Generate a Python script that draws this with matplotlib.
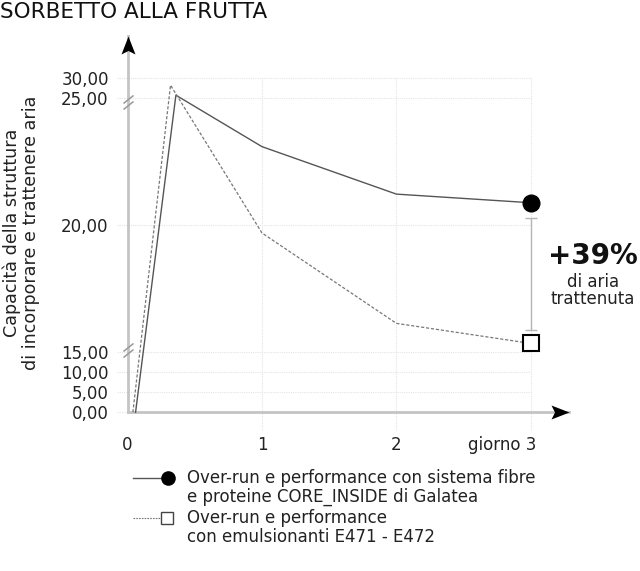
import numpy as np
import matplotlib
matplotlib.use("Agg")
import matplotlib.pyplot as plt
import matplotlib.transforms as mtransforms
from matplotlib.path import Path
from matplotlib.lines import Line2D

# data (days vs air retained)
days_core = [0.06, 0.36, 1, 2, 3]
air_core = [0, 25.8, 23.1, 21.23, 20.89]
days_emul = [0.04, 0.32, 1, 2, 3]
air_emul = [0, 28.3, 19.7, 16.14, 15.35]

y_ticks = [0, 5, 10, 15, 20, 25, 30]
y_tick_labels = ["0,00", "5,00", "10,00", "15,00", "20,00", "25,00", "30,00"]
x_ticks = [0, 1, 2, 3]
x_tick_labels = ["0", "1", "2", "giorno 3"]
gap_top, gap_bottom = 20.28, 15.88

title = "SORBETTO ALLA FRUTTA"
ylabel = "Capacità della struttura\ndi incorporare e trattenere aria"
legend_core = "Over-run e performance con sistema fibre\ne proteine CORE_INSIDE di Galatea"
legend_emul = "Over-run e performance\ncon emulsionanti E471 - E472"

plt.rcParams["font.family"] = ["DejaVu Sans"]

W, H = 640, 571


def forward(v):
    v = np.asarray(v, dtype=float)
    return np.where(v <= 15, 4 * v,
                    np.where(v <= 25, 60 + 25.4 * (v - 15), 314 + 4 * (v - 25)))


def inverse(p):
    p = np.asarray(p, dtype=float)
    return np.where(p <= 60, p / 4,
                    np.where(p <= 314, 15 + (p - 60) / 25.4, 25 + (p - 314) / 4))


def fx(x):
    return x / W


def fy(y):
    return 1 - y / H


fig = plt.figure(figsize=(W / 100, H / 100), dpi=100)
ax = fig.add_axes([fx(127.5), 1 - 412.3 / H, 441 / W, 376.3 / H])
ax.set_yscale("function", functions=(forward, inverse))
ax.set_xlim(0, 3.28)
ax.set_ylim(0, 40.6)

for s in ["top", "right"]:
    ax.spines[s].set_visible(False)
for s in ["left", "bottom"]:
    ax.spines[s].set_color("#c4c4c4")
    ax.spines[s].set_linewidth(2)

# grid
grid_kw = dict(color="#e4e4e4", lw=0.8, linestyles=(0, (1, 1)), clip_on=False, zorder=0)
ax.hlines(y_ticks, -0.078, 3, **grid_kw)
ax.vlines([1, 2, 3], -4.4, 30, **grid_kw)

# axis arrows
up_arrow = Path([(0, 0), (-7, -18), (0, -14.5), (7, -18), (0, 0)],
                [Path.MOVETO, Path.LINETO, Path.LINETO, Path.LINETO, Path.CLOSEPOLY])
right_arrow = Path([(0, 0), (-18, 7), (-14.5, 0), (-18, -7), (0, 0)],
                   [Path.MOVETO, Path.LINETO, Path.LINETO, Path.LINETO, Path.CLOSEPOLY])
ax.plot([0], [1], marker=up_arrow, ms=25.9, mew=0, color="black",
        transform=ax.get_xaxis_transform(), clip_on=False, zorder=6)
ax.plot([1], [0], marker=right_arrow, ms=25.9, mew=0, color="black",
        transform=ax.get_yaxis_transform(), clip_on=False, zorder=6)

# axis break marks
brk = Path([(-5, -7), (5, 1), (-5, -1), (5, 7)],
           [Path.MOVETO, Path.LINETO, Path.MOVETO, Path.LINETO])
ax.plot([0, 0], [24.87, 15.09], ls="none", marker=brk, ms=10.1, mew=1.1,
        mec="#9a9a9a", mfc="none", clip_on=False, zorder=6)

# series
ax.plot(days_core, air_core, color="#555555", lw=1, zorder=3, clip_on=False)
ax.plot(days_emul, air_emul, color="#777777", lw=0.9, ls=(0, (2.5, 1.5)), zorder=3, clip_on=False)
ax.plot(days_core[-1], air_core[-1], "o", ms=12, color="black", zorder=5, clip_on=False)
ax.plot(days_emul[-1], air_emul[-1], "s", ms=11.2, mfc="white", mec="black", mew=1.5,
        zorder=5, clip_on=False)

# difference bracket
ax.errorbar([3], [(gap_top + gap_bottom) / 2], yerr=[(gap_top - gap_bottom) / 2],
            fmt="none", ecolor="#b5b5b5", elinewidth=1, capsize=4.5, capthick=1, zorder=4)

# ticks
ax.set_yticks(y_ticks, y_tick_labels)
ax.set_xticks(x_ticks, x_tick_labels)
ax.minorticks_off()
ax.tick_params(axis="y", length=0, pad=13.5, labelsize=12, labelcolor="#222222")
ax.tick_params(axis="x", length=0, pad=17, labelsize=12, labelcolor="#222222")
last = ax.get_xticklabels()[-1]
last.set_horizontalalignment("right")
last.set_transform(last.get_transform() + mtransforms.ScaledTranslation(0.06, 0, fig.dpi_scale_trans))

# texts
fig.text(0, fy(12), title, ha="left", va="center", fontsize=15.5, color="#111111")
fig.text(fx(21), fy(233), ylabel, rotation=90, ha="center", va="center",
         fontsize=12.6, linespacing=1.05, color="#222222")
fig.text(fx(593), fy(256), "+39%", ha="center", va="center", fontsize=20, fontweight="bold", color="#111111")
fig.text(fx(593), fy(282), "di aria", ha="center", va="center", fontsize=12, color="#222222")
fig.text(fx(593), fy(299), "trattenuta", ha="center", va="center", fontsize=12, color="#222222")

# legend drawn by hand so the handle sits on the first text line
fig.add_artist(Line2D([fx(133), fx(168)], [fy(478), fy(478)], color="#555555", lw=1))
fig.add_artist(Line2D([fx(168)], [fy(478)], marker="o", ms=9.5, color="black"))
fig.add_artist(Line2D([fx(133), fx(162)], [fy(518), fy(518)], color="#777777", lw=0.8, ls=(0, (1.5, 1))))
fig.add_artist(Line2D([fx(167)], [fy(518)], marker="s", ms=8, mfc="white", mec="#444444", mew=1))
fig.text(fx(187), fy(487.5), legend_core, ha="left", va="center", fontsize=12, linespacing=1.05, color="#222222")
fig.text(fx(187), fy(527.5), legend_emul, ha="left", va="center", fontsize=12, linespacing=1.05, color="#222222")

fig.savefig("out.png", dpi=100)
